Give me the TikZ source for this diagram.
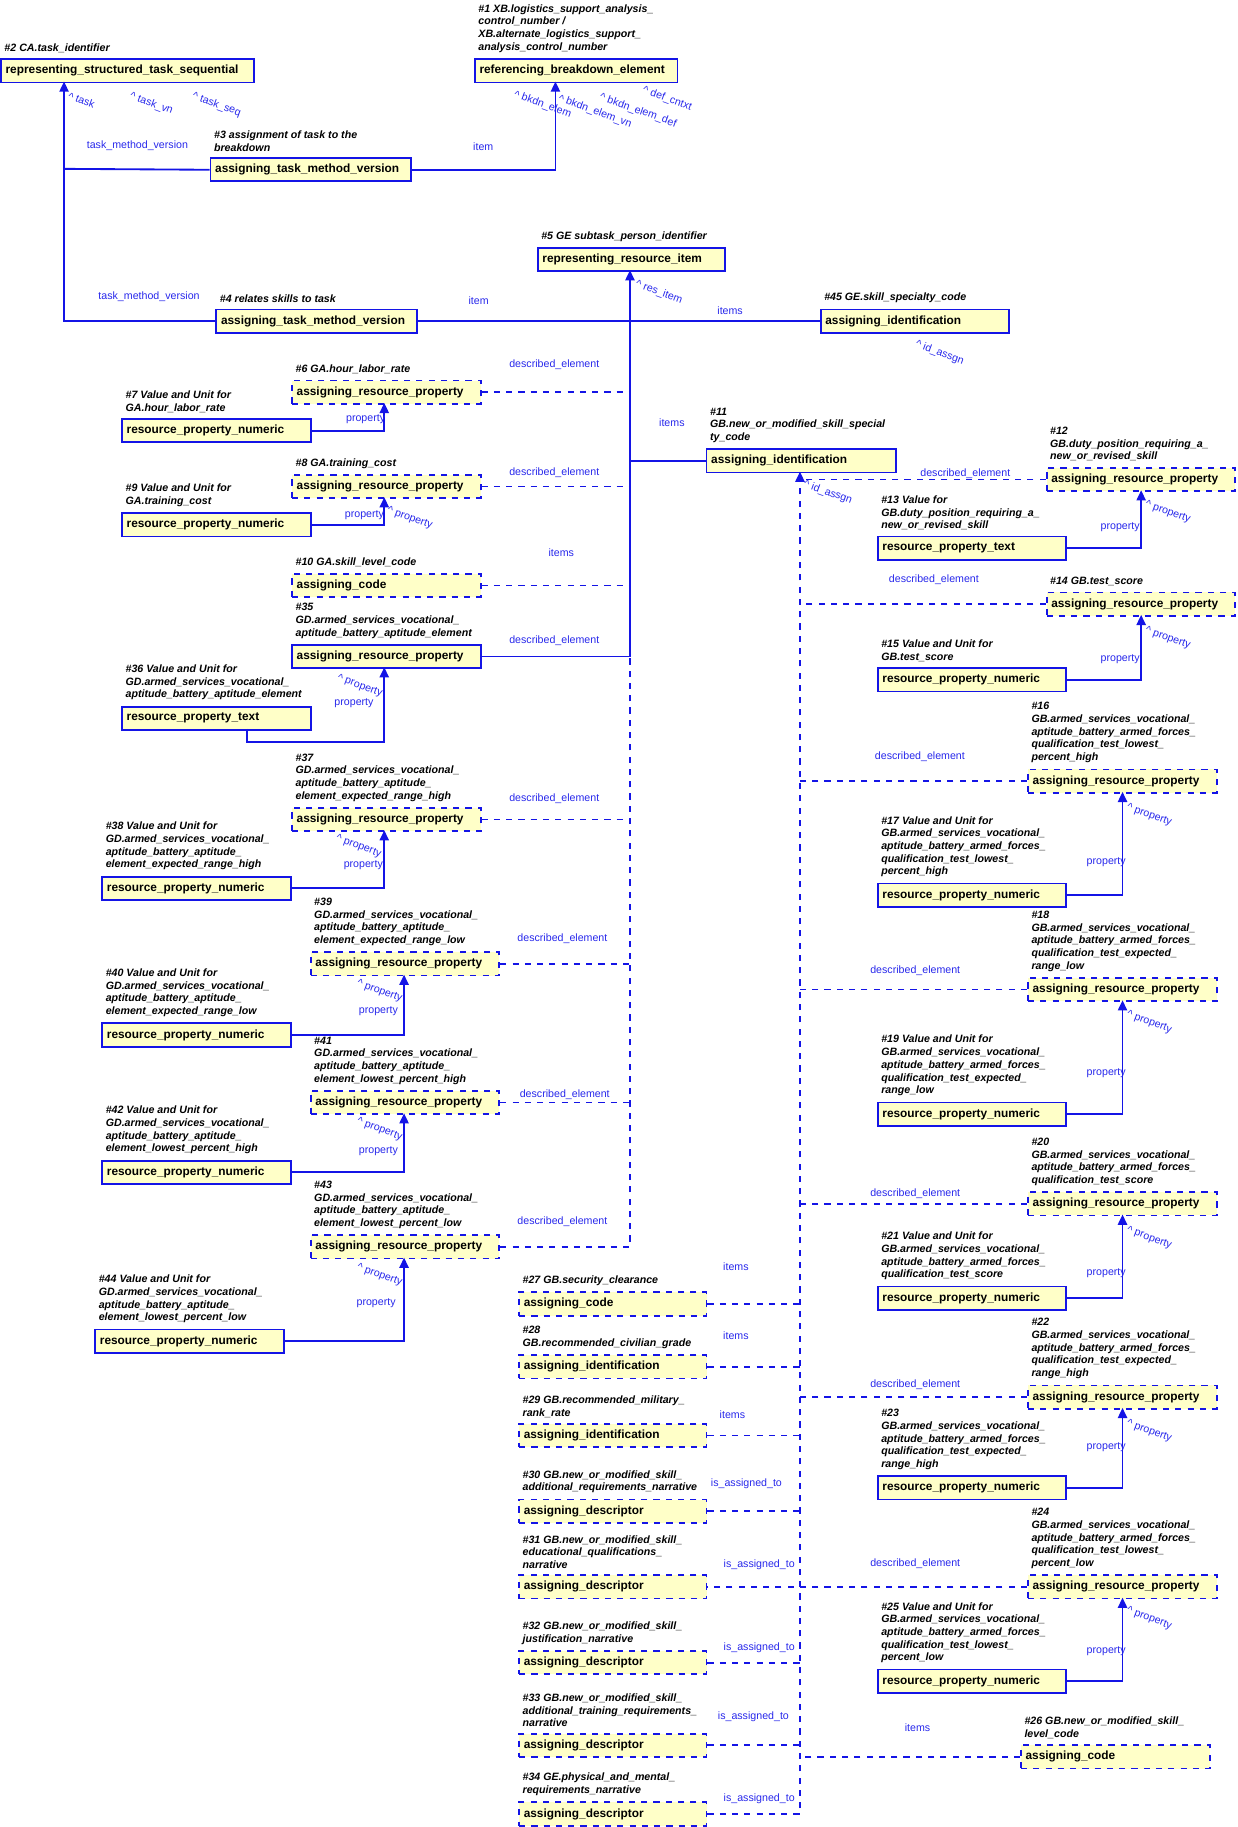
\documentclass[tikz,border=0pt]{standalone}
\usepackage{fontspec}
\setmainfont{Liberation Sans}
\usetikzlibrary{arrows.meta}
\definecolor{eblue}{RGB}{20,20,230}
\definecolor{tblue}{RGB}{40,40,235}
\definecolor{eyellow}{RGB}{255,255,200}
\newcommand{\up}{\textasciicircum\ }
% entity box with its caption above
\newcommand{\ent}[7]{%
  \pgfmathsetmacro{\tw}{#4*0.2-1.6}%
  \node[ent,#5,text width=\tw mm,anchor=north west] (#1) at (#2,#3) {#6};
  \node[lbl,anchor=south west] (#1l) at ([xshift=0.7mm,yshift=0.9mm]#1.north west) {#7};}
\begin{document}
\begin{tikzpicture}
  [x=0.2mm,y=-0.2mm,
   ent/.style={draw=eblue, fill=eyellow, line width=0.9pt, minimum height=4mm,
     inner ysep=0.3mm, inner xsep=0.8mm, align=left,
     font=\fontsize{5.8}{7}\selectfont\bfseries},
   lbl/.style={inner sep=0, align=left, font=\fontsize{5.2}{6.2}\selectfont\bfseries\itshape},
   rl/.style={inner sep=0, text=tblue, font=\fontsize{5.2}{6}\selectfont},
   rrl/.style={rl, rotate=-20},
   rel/.style={draw=eblue, line width=0.9pt},
   opt/.style={rel, dashed},
   arr/.style={-{Triangle[width=4.5pt,length=5pt]}}]
  \useasboundingbox (0,0) rectangle (1063,1569);

  % top level
  \ent{b2}{0}{50}{217}{}{representing\_structured\_task\_sequential}{\#2 CA.task\_identifier}
  \ent{b1}{407}{50}{174}{}{referencing\_breakdown\_element}{\#1 XB.logistics\_support\_analysis\_\\control\_number /\\XB.alternate\_logistics\_support\_\\analysis\_control\_number}
  \ent{b3}{180}{135}{172}{}{assigning\_task\_method\_version}{\#3 assignment of task to the\\breakdown}
  \ent{b5}{461}{212}{161}{}{representing\_resource\_item}{\#5 GE subtask\_person\_identifier}
  \ent{b4}{185}{265}{172}{}{assigning\_task\_method\_version}{\#4 relates skills to task}
  \ent{b45}{704}{265}{162}{}{assigning\_identification}{\#45 GE.skill\_specialty\_code}

  % left column
  \ent{b6}{250}{326}{162}{dashed}{assigning\_resource\_property}{\#6 GA.hour\_labor\_rate}
  \ent{b7}{104}{359}{162}{}{resource\_property\_numeric}{\#7 Value and Unit for\\GA.hour\_labor\_rate}
  \ent{b8}{250}{407}{162}{dashed}{assigning\_resource\_property}{\#8 GA.training\_cost}
  \ent{b9}{104}{440}{162}{}{resource\_property\_numeric}{\#9 Value and Unit for\\GA.training\_cost}
  \ent{b10}{250}{492}{162}{dashed}{assigning\_code}{\#10 GA.skill\_level\_code}
  \ent{b35}{250}{553}{162}{}{assigning\_resource\_property}{\#35\\GD.armed\_services\_vocational\_\\aptitude\_battery\_aptitude\_element}
  \ent{b36}{104}{606}{162}{}{resource\_property\_text}{\#36 Value and Unit for\\GD.armed\_services\_vocational\_\\aptitude\_battery\_aptitude\_element}
  \ent{b37}{250}{693}{162}{dashed}{assigning\_resource\_property}{\#37\\GD.armed\_services\_vocational\_\\aptitude\_battery\_aptitude\_\\element\_expected\_range\_high}
  \ent{b38}{87}{752}{162}{}{resource\_property\_numeric}{\#38 Value and Unit for\\GD.armed\_services\_vocational\_\\aptitude\_battery\_aptitude\_\\element\_expected\_range\_high}
  \ent{b39}{266}{817}{162}{dashed}{assigning\_resource\_property}{\#39\\GD.armed\_services\_vocational\_\\aptitude\_battery\_aptitude\_\\element\_expected\_range\_low}
  \ent{b40}{87}{878}{162}{}{resource\_property\_numeric}{\#40 Value and Unit for\\GD.armed\_services\_vocational\_\\aptitude\_battery\_aptitude\_\\element\_expected\_range\_low}
  \ent{b41}{266}{936}{162}{dashed}{assigning\_resource\_property}{\#41\\GD.armed\_services\_vocational\_\\aptitude\_battery\_aptitude\_\\element\_lowest\_percent\_high}
  \ent{b42}{87}{996}{162}{}{resource\_property\_numeric}{\#42 Value and Unit for\\GD.armed\_services\_vocational\_\\aptitude\_battery\_aptitude\_\\element\_lowest\_percent\_high}
  \ent{b43}{266}{1060}{162}{dashed}{assigning\_resource\_property}{\#43\\GD.armed\_services\_vocational\_\\aptitude\_battery\_aptitude\_\\element\_lowest\_percent\_low}
  \ent{b44}{81}{1141}{162}{}{resource\_property\_numeric}{\#44 Value and Unit for\\GD.armed\_services\_vocational\_\\aptitude\_battery\_aptitude\_\\element\_lowest\_percent\_low}

  % middle column
  \ent{b11}{606}{385}{163}{}{assigning\_identification}{\#11\\GB.new\_or\_modified\_skill\_special\\ty\_code}
  \ent{b27}{445}{1109}{161}{dashed}{assigning\_code}{\#27 GB.security\_clearance}
  \ent{b28}{445}{1163}{161}{dashed}{assigning\_identification}{\#28\\GB.recommended\_civilian\_grade}
  \ent{b29}{445}{1222}{161}{dashed}{assigning\_identification}{\#29 GB.recommended\_military\_\\rank\_rate}
  \ent{b30}{445}{1287}{161}{dashed}{assigning\_descriptor}{\#30 GB.new\_or\_modified\_skill\_\\additional\_requirements\_narrative}
  \ent{b31}{445}{1352}{161}{dashed}{assigning\_descriptor}{\#31 GB.new\_or\_modified\_skill\_\\educational\_qualifications\_\\narrative}
  \ent{b32}{445}{1417}{161}{dashed}{assigning\_descriptor}{\#32 GB.new\_or\_modified\_skill\_\\justification\_narrative}
  \ent{b33}{445}{1488}{161}{dashed}{assigning\_descriptor}{\#33 GB.new\_or\_modified\_skill\_\\additional\_training\_requirements\_\\narrative}
  \ent{b34}{445}{1547}{161}{dashed}{assigning\_descriptor}{\#34 GE.physical\_and\_mental\_\\requirements\_narrative}

  % right column
  \ent{b12}{898}{401}{162}{dashed}{assigning\_resource\_property}{\#12\\GB.duty\_position\_requiring\_a\_\\new\_or\_revised\_skill}
  \ent{b13}{753}{460}{162}{}{resource\_property\_text}{\#13 Value for\\GB.duty\_position\_requiring\_a\_\\new\_or\_revised\_skill}
  \ent{b14}{898}{508}{162}{dashed}{assigning\_resource\_property}{\#14 GB.test\_score}
  \ent{b15}{753}{573}{162}{}{resource\_property\_numeric}{\#15 Value and Unit for\\GB.test\_score}
  \ent{b16}{882}{660}{162}{dashed}{assigning\_resource\_property}{\#16\\GB.armed\_services\_vocational\_\\aptitude\_battery\_armed\_forces\_\\qualification\_test\_lowest\_\\percent\_high}
  \ent{b17}{753}{758}{162}{}{resource\_property\_numeric}{\#17 Value and Unit for\\GB.armed\_services\_vocational\_\\aptitude\_battery\_armed\_forces\_\\qualification\_test\_lowest\_\\percent\_high}
  \ent{b18}{882}{839}{162}{dashed}{assigning\_resource\_property}{\#18\\GB.armed\_services\_vocational\_\\aptitude\_battery\_armed\_forces\_\\qualification\_test\_expected\_\\range\_low}
  \ent{b19}{753}{946}{162}{}{resource\_property\_numeric}{\#19 Value and Unit for\\GB.armed\_services\_vocational\_\\aptitude\_battery\_armed\_forces\_\\qualification\_test\_expected\_\\range\_low}
  \ent{b20}{882}{1023}{162}{dashed}{assigning\_resource\_property}{\#20\\GB.armed\_services\_vocational\_\\aptitude\_battery\_armed\_forces\_\\qualification\_test\_score}
  \ent{b21}{753}{1104}{162}{}{resource\_property\_numeric}{\#21 Value and Unit for\\GB.armed\_services\_vocational\_\\aptitude\_battery\_armed\_forces\_\\qualification\_test\_score}
  \ent{b22}{882}{1189}{162}{dashed}{assigning\_resource\_property}{\#22\\GB.armed\_services\_vocational\_\\aptitude\_battery\_armed\_forces\_\\qualification\_test\_expected\_\\range\_high}
  \ent{b23}{753}{1267}{162}{}{resource\_property\_numeric}{\#23\\GB.armed\_services\_vocational\_\\aptitude\_battery\_armed\_forces\_\\qualification\_test\_expected\_\\range\_high}
  \ent{b24}{882}{1352}{162}{dashed}{assigning\_resource\_property}{\#24\\GB.armed\_services\_vocational\_\\aptitude\_battery\_armed\_forces\_\\qualification\_test\_lowest\_\\percent\_low}
  \ent{b25}{753}{1433}{162}{}{resource\_property\_numeric}{\#25 Value and Unit for\\GB.armed\_services\_vocational\_\\aptitude\_battery\_armed\_forces\_\\qualification\_test\_lowest\_\\percent\_low}
  \ent{b26}{876}{1498}{162}{dashed}{assigning\_code}{\#26 GB.new\_or\_modified\_skill\_\\level\_code}

  % arrow ends
  \coordinate (a2) at (55,70);
  \coordinate (k3) at (55,145);
  \coordinate (a1) at (477,70);
  \coordinate (a5) at (541,232);
  \coordinate (a6) at (330,346);
  \coordinate (a8) at (330,427);
  \coordinate (a35) at (330,573);
  \coordinate (s36) at (212,626);
  \coordinate (k36) at (212,637);
  \coordinate (a37) at (330,713);
  \coordinate (a39) at (347,837);
  \coordinate (a41) at (347,956);
  \coordinate (a43) at (347,1080);
  \coordinate (m35) at (541,563);
  \coordinate (a11) at (687,405);
  \coordinate (a12) at (980,421);
  \coordinate (a14) at (980,528);
  \coordinate (a16) at (964,680);
  \coordinate (a18) at (964,859);
  \coordinate (a20) at (964,1043);
  \coordinate (a22) at (964,1209);
  \coordinate (a24) at (964,1372);

  % connectors
  \draw[rel,arr] (b4.west) -| (a2);
  \draw[rel] (b3.west) -- (k3);
  \draw[rel,arr] (b3.east) -| (a1);
  \draw[rel,arr] (b35.east) -| (a5);
  \draw[rel] (b4.east) -- (b4.east -| a5);
  \draw[rel] (b45.west) -- (b45.west -| a5);
  \draw[rel] (b11.west) -- (b11.west -| a5);
  \draw[opt] (b43.east) -| (m35);
  \foreach \b in {b6,b8,b10,b37,b39,b41}
    \draw[opt] (\b.east) -- (\b.east -| a5);
  \draw[rel,arr] (b7.east) -| (a6);
  \draw[rel,arr] (b9.east) -| (a8);
  \draw[rel,arr] (s36) -- (k36) -| (a35);
  \draw[rel,arr] (b38.east) -| (a37);
  \draw[rel,arr] (b40.east) -| (a39);
  \draw[rel,arr] (b42.east) -| (a41);
  \draw[rel,arr] (b44.east) -| (a43);
  \draw[opt,arr] (b34.east) -| (a11);
  \foreach \b in {b12,b14,b16,b18,b20,b22,b26}
    \draw[opt] (\b.west) -- (\b.west -| a11);
  \foreach \b in {b27,b28,b29,b30,b32,b33}
    \draw[opt] (\b.east) -- (\b.east -| a11);
  \draw[opt] (b24.west) -- (b31.east);
  \draw[rel,arr] (b13.east) -| (a12);
  \draw[rel,arr] (b15.east) -| (a14);
  \draw[rel,arr] (b17.east) -| (a16);
  \draw[rel,arr] (b19.east) -| (a18);
  \draw[rel,arr] (b21.east) -| (a20);
  \draw[rel,arr] (b23.east) -| (a22);
  \draw[rel,arr] (b25.east) -| (a24);

  % connector texts
  \node[rl] (t1) at (118,125) {task\_method\_version};
  \node[rl] (t2) at (415,126) {item};
  \node[rrl] (t3) at (70,86) {\up task};
  \node[rrl] (t4) at (130,89) {\up task\_vn};
  \node[rrl] (t5) at (186,90) {\up task\_seq};
  \node[rrl] (t6) at (466,90) {\up bkdn\_elem};
  \node[rrl] (t7) at (511,96) {\up bkdn\_elem\_vn};
  \node[rrl] (t8) at (548,95) {\up bkdn\_elem\_def};
  \node[rrl] (t9) at (573,85) {\up def\_cntxt};
  \node[rl] (t10) at (128,255) {task\_method\_version};
  \node[rl] (t11) at (411,258) {item};
  \node[rrl] (t12) at (566,251) {\up res\_item};
  \node[rl] (t13) at (627,267) {items};
  \node[rrl] (t14) at (807,303) {\up id\_assgn};
  \node[rl] (t15) at (476,313) {described\_element};
  \node[rl] (t16) at (314,360) {property};
  \node[rl] (t17) at (476,406) {described\_element};
  \node[rl] (t18) at (313,442) {property};
  \node[rrl] (t19) at (352,445) {\up property};
  \node[rl] (t20) at (482,475) {items};
  \node[rl] (t21) at (476,550) {described\_element};
  \node[rrl] (t22) at (309,589) {\up property};
  \node[rl] (t23) at (304,604) {property};
  \node[rl] (t24) at (476,686) {described\_element};
  \node[rrl] (t25) at (308,727) {\up property};
  \node[rl] (t26) at (312,743) {property};
  \node[rl] (t27) at (483,806) {described\_element};
  \node[rrl] (t28) at (326,851) {\up property};
  \node[rl] (t29) at (325,868) {property};
  \node[rl] (t30) at (485,940) {described\_element};
  \node[rrl] (t31) at (326,970) {\up property};
  \node[rl] (t32) at (325,989) {property};
  \node[rl] (t33) at (483,1049) {described\_element};
  \node[rrl] (t34) at (326,1095) {\up property};
  \node[rl] (t35) at (323,1119) {property};
  \node[rl] (t36) at (577,363) {items};
  \node[rrl] (t37) at (711,423) {\up id\_assgn};
  \node[rl] (t38) at (829,407) {described\_element};
  \node[rl] (t39) at (962,453) {property};
  \node[rrl] (t40) at (1003,440) {\up property};
  \node[rl] (t41) at (802,498) {described\_element};
  \node[rl] (t42) at (962,566) {property};
  \node[rrl] (t43) at (1003,548) {\up property};
  \node[rl] (t44) at (790,650) {described\_element};
  \node[rl] (t45) at (950,740) {property};
  \node[rrl] (t46) at (987,700) {\up property};
  \node[rl] (t47) at (786,834) {described\_element};
  \node[rl] (t48) at (950,922) {property};
  \node[rrl] (t49) at (987,878) {\up property};
  \node[rl] (t50) at (786,1025) {described\_element};
  \node[rl] (t51) at (950,1093) {property};
  \node[rrl] (t52) at (987,1063) {\up property};
  \node[rl] (t53) at (786,1189) {described\_element};
  \node[rl] (t54) at (950,1243) {property};
  \node[rrl] (t55) at (987,1229) {\up property};
  \node[rl] (t56) at (786,1343) {described\_element};
  \node[rl] (t57) at (950,1418) {property};
  \node[rrl] (t58) at (987,1390) {\up property};
  \node[rl] (t59) at (788,1484) {items};
  \node[rl] (t60) at (632,1088) {items};
  \node[rl] (t61) at (632,1147) {items};
  \node[rl] (t62) at (629,1215) {items};
  \node[rl] (t63) at (641,1274) {is\_assigned\_to};
  \node[rl] (t64) at (652,1344) {is\_assigned\_to};
  \node[rl] (t65) at (652,1415) {is\_assigned\_to};
  \node[rl] (t66) at (647,1474) {is\_assigned\_to};
  \node[rl] (t67) at (652,1545) {is\_assigned\_to};
\end{tikzpicture}
\end{document}
